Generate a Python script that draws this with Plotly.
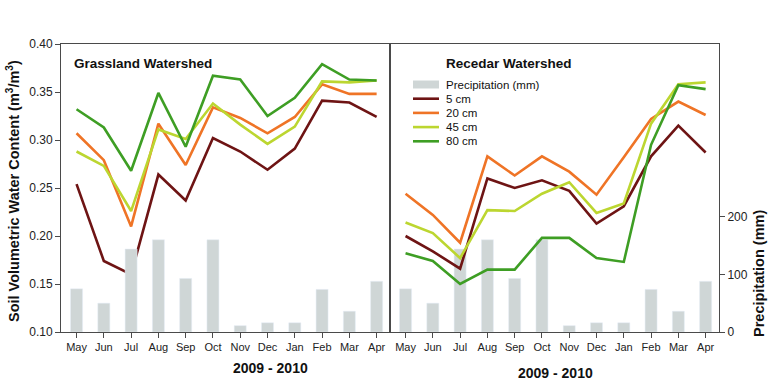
import plotly.graph_objects as go

months = ["May", "Jun", "Jul", "Aug", "Sep", "Oct", "Nov", "Dec", "Jan", "Feb", "Mar", "Apr"]
precip_mm = [75, 50, 144, 160, 93, 160, 11, 16, 16, 74, 36, 88]

grass_5 = [0.254, 0.174, 0.160, 0.264, 0.237, 0.302, 0.288, 0.269, 0.291, 0.341, 0.339, 0.324]
grass_20 = [0.307, 0.279, 0.210, 0.317, 0.274, 0.334, 0.323, 0.307, 0.324, 0.358, 0.348, 0.348]
grass_45 = [0.288, 0.273, 0.226, 0.311, 0.301, 0.338, 0.316, 0.296, 0.314, 0.361, 0.360, 0.362]
grass_80 = [0.332, 0.313, 0.268, 0.349, 0.293, 0.367, 0.363, 0.325, 0.344, 0.379, 0.363, 0.362]

cedar_5 = [0.200, 0.184, 0.166, 0.260, 0.250, 0.258, 0.247, 0.213, 0.231, 0.283, 0.315, 0.287]
cedar_20 = [0.244, 0.222, 0.193, 0.283, 0.263, 0.283, 0.267, 0.243, 0.282, 0.322, 0.340, 0.326]
cedar_45 = [0.214, 0.203, 0.177, 0.227, 0.226, 0.244, 0.256, 0.224, 0.234, 0.317, 0.358, 0.360]
cedar_80 = [0.182, 0.174, 0.150, 0.165, 0.165, 0.198, 0.198, 0.177, 0.173, 0.295, 0.357, 0.353]

depth_names = ["5 cm", "20 cm", "45 cm", "80 cm"]
depth_colors = ["#6e1414", "#ef7426", "#bcd630", "#3e9e24"]
bar_color = "#cfd6d6"
axis_color = "#4a4a4a"

# pixel helpers for paper coordinates (plot area: x 61..719, y 44..332)
L, R, T, B = 61, 49, 44, 50
W, H = 768, 382
PW, PH = W - L - R, H - T - B
def px(x):
    return (x - L) / PW
def py(y):
    return (H - B - y) / PH

fig = go.Figure()

# Bars
fig.add_trace(go.Bar(x=months, y=precip_mm, xaxis="x", yaxis="y3", marker_color=bar_color,
                     width=0.44, showlegend=False))
fig.add_trace(go.Bar(x=months, y=precip_mm, xaxis="x2", yaxis="y2", marker_color=bar_color,
                     width=0.44, showlegend=False))

for vals, name, col in zip([grass_5, grass_20, grass_45, grass_80], depth_names, depth_colors):
    fig.add_trace(go.Scatter(x=months, y=vals, mode="lines", line=dict(color=col, width=2.6),
                             xaxis="x", yaxis="y", showlegend=False, name=name))
for vals, name, col in zip([cedar_5, cedar_20, cedar_45, cedar_80], depth_names, depth_colors):
    fig.add_trace(go.Scatter(x=months, y=vals, mode="lines", line=dict(color=col, width=2.6),
                             xaxis="x2", yaxis="y4", showlegend=False, name=name))

tickfont = dict(family="Liberation Sans, Arial, sans-serif", size=11, color="#222")
xcommon = dict(type="category", range=[-0.57, 11.49], showline=True, linecolor=axis_color,
               linewidth=1, mirror=True, ticks="outside", ticklen=5, tickcolor=axis_color,
               tickfont=tickfont, showgrid=False, zeroline=False)

fig.update_layout(
    width=W, height=H,
    margin=dict(l=L, r=R, t=T, b=B),
    paper_bgcolor="white", plot_bgcolor="white",
    font=dict(family="Liberation Sans, Arial, sans-serif", color="#111"),
    showlegend=False,
    barmode="overlay",
    xaxis=dict(domain=[0, 0.5], anchor="y", **xcommon),
    xaxis2=dict(domain=[0.5, 1], anchor="y2", **xcommon),
    yaxis=dict(domain=[0, 1], anchor="x", range=[0.10, 0.40], dtick=0.05, tickformat=".2f",
               showline=True, linecolor=axis_color, linewidth=1, mirror=True,
               ticks="outside", ticklen=5, tickcolor=axis_color,
               tickfont=dict(family="Liberation Sans, Arial, sans-serif", size=12, color="#222"),
               showgrid=False, zeroline=False),
    yaxis3=dict(overlaying="y", anchor="x", range=[0, 500], visible=False),
    yaxis2=dict(domain=[0, 1], anchor="x2", side="right", range=[0, 500],
                tickvals=[0, 100, 200],
                showline=True, linecolor=axis_color, linewidth=1, mirror=True,
                ticks="outside", ticklen=5, tickcolor=axis_color,
                tickfont=dict(family="Liberation Sans, Arial, sans-serif", size=12, color="#222"),
                showgrid=False, zeroline=False),
    yaxis6=dict(overlaying="y2", anchor="x2", side="right", range=[0, 500],
                tickvals=[300, 400, 500], showticklabels=False,
                ticks="outside", ticklen=5, tickcolor=axis_color,
                showline=False, showgrid=False, zeroline=False),
    yaxis5=dict(overlaying="y2", anchor="x2", side="left", range=[0, 500],
                tickvals=[100, 200, 300, 400], showticklabels=False,
                ticks="inside", ticklen=4, tickcolor=axis_color,
                showline=False, showgrid=False, zeroline=False),
    yaxis4=dict(overlaying="y2", anchor="x2", range=[0.10, 0.40], visible=False),
)

bold = dict(family="Liberation Sans, Arial, sans-serif", color="#111")
ann = []
ann.append(dict(text="<b>Soil Volumetric Water Content (m<sup>3</sup>/m<sup>3</sup>)</b>",
                x=px(13), y=py(191), xref="paper", yref="paper", textangle=-90,
                showarrow=False, xanchor="center", yanchor="middle", font=dict(size=14.5, **bold)))
ann.append(dict(text="<b>Precipitation (mm)</b>", x=px(759), y=py(273), xref="paper", yref="paper",
                textangle=-90, showarrow=False, xanchor="center", yanchor="middle",
                font=dict(size=14.5, **bold)))
ann.append(dict(text="<b>2009 - 2010</b>", x=px(270), y=py(368), xref="paper", yref="paper",
                showarrow=False, xanchor="center", yanchor="middle", font=dict(size=14, **bold)))
ann.append(dict(text="<b>2009 - 2010</b>", x=px(555), y=py(373), xref="paper", yref="paper",
                showarrow=False, xanchor="center", yanchor="middle", font=dict(size=14, **bold)))
ann.append(dict(text="<b>Grassland Watershed</b>", x=px(72), y=py(64), xref="paper", yref="paper",
                showarrow=False, xanchor="left", yanchor="middle", font=dict(size=13.5, **bold)))
ann.append(dict(text="<b>Recedar Watershed</b>", x=px(444), y=py(64), xref="paper", yref="paper",
                showarrow=False, xanchor="left", yanchor="middle", font=dict(size=13.5, **bold)))

# Legend (manual, to match tight row spacing)
legend_labels = ["Precipitation (mm)"] + depth_names
row_y = [84.5 + 14.2 * i for i in range(len(legend_labels))]
shapes = []
for i, (lab, yy) in enumerate(zip(legend_labels, row_y)):
    ann.append(dict(text=lab, x=px(444), y=py(yy), xref="paper", yref="paper", showarrow=False,
                    xanchor="left", yanchor="middle",
                    font=dict(family="Liberation Sans, Arial, sans-serif", size=11.5, color="#111")))
    if i == 0:
        shapes.append(dict(type="rect", xref="paper", yref="paper", x0=px(413), x1=px(439),
                           y0=py(yy - 4), y1=py(yy + 4), fillcolor=bar_color, line=dict(width=0)))
    else:
        shapes.append(dict(type="line", xref="paper", yref="paper", x0=px(413), x1=px(439),
                           y0=py(yy), y1=py(yy), line=dict(color=depth_colors[i - 1], width=2.6)))

fig.update_layout(annotations=ann, shapes=shapes)
fig.write_html("out.html", config={"displayModeBar": False},
               post_script="document.body.style.margin='0';document.body.style.padding='0';")
